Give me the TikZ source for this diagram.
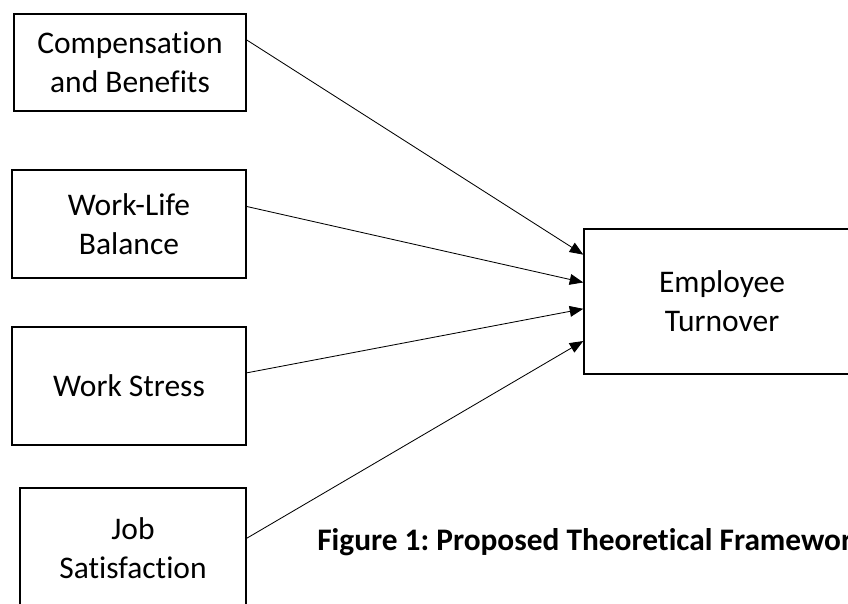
\documentclass[tikz,border=0pt]{standalone}
\usepackage{fontspec}
\setmainfont{Carlito}[Ligatures=NoCommon]
\usepackage{tikz}
\usetikzlibrary{positioning,arrows.meta,calc}
\frenchspacing

\begin{document}
\begin{tikzpicture}[
    factor/.style={draw, line width=1pt, align=center, inner sep=0pt,
      font=\fontsize{22.4}{27.7}\selectfont},
    link/.style={line width=0.6pt, -{Triangle[length=0.34cm,width=0.27cm]}}]
    \useasboundingbox (0,0) rectangle (21.2,15.075);
    \clip (0,0) rectangle (21.2,15.075);
    \node[factor, minimum width=5.8cm, minimum height=2.425cm] (comp) at (3.25,13.51) {Compensation\\and Benefits};
    \node[factor, minimum width=5.85cm, minimum height=2.7cm] (wlb) at (3.225,9.475) {Work-Life\\Balance};
    \node[factor, minimum width=5.85cm, minimum height=2.95cm] (stress) at (3.225,5.425) {Work Stress};
    \node[factor, minimum width=5.65cm, minimum height=3cm] (sat) at (3.325,1.375) {Job\\Satisfaction};
    \node[factor, minimum width=6.9cm, minimum height=3.625cm] (turn) at (18.05,7.5375) {Employee\\Turnover};
    % arrows into the outcome
    \draw[link] ($(comp.north east)!0.27!(comp.south east)$) -- ($(turn.north west)!0.18!(turn.south west)$);
    \draw[link] ($(wlb.north east)!0.34!(wlb.south east)$) -- ($(turn.north west)!0.37!(turn.south west)$);
    \draw[link] ($(stress.north east)!0.39!(stress.south east)$) -- ($(turn.north west)!0.55!(turn.south west)$);
    \draw[link] ($(sat.north east)!0.42!(sat.south east)$) -- ($(turn.north west)!0.77!(turn.south west)$);
    \node[anchor=base west, inner sep=0pt, font=\fontsize{22.3}{27}\selectfont\bfseries] (caption) at (7.925,1.325) {Figure 1: Proposed Theoretical Framework};
  \end{tikzpicture}
\end{document}
